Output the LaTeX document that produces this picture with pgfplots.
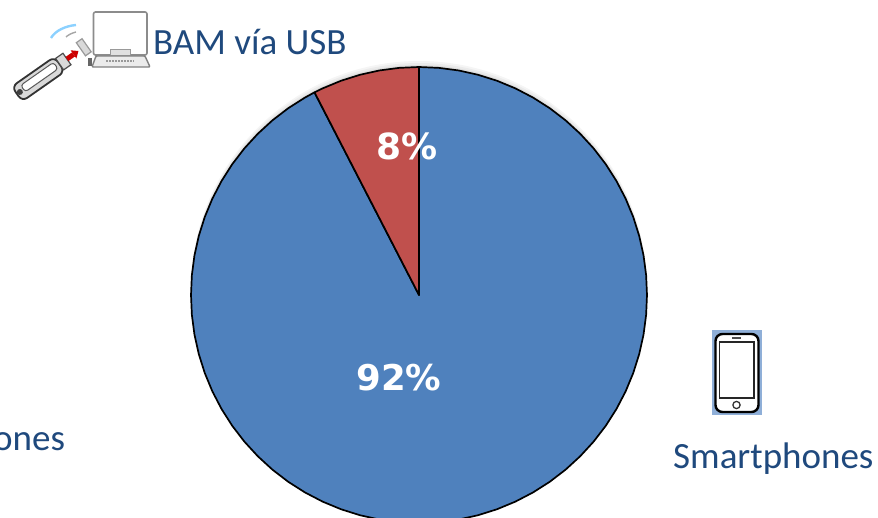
\documentclass[border=0pt]{standalone}
\usepackage{pgfplots}
\pgfplotsset{compat=1.18}
\usepackage{fontspec}
\setmainfont{Carlito}
\newfontfamily\labelfont{DejaVu Sans}
\definecolor{pieblue}{HTML}{4F81BD}
\definecolor{piered}{HTML}{C0504D}
\definecolor{txtblue}{HTML}{1F497D}
\definecolor{phonebg}{HTML}{8FAFD8}
\begin{document}
\begin{tikzpicture}
\clip (0,0) rectangle (878pt,517pt);
\begin{scope}[shift={(0,517pt)}, x=1pt, y=-1pt]
\fill[black, opacity=.04] (419,289) circle (228pt);
\fill[black, opacity=.04] (419,291) circle (228pt);
\fill[black, opacity=.05] (419,293) circle (228pt);
\end{scope}
\begin{axis}[hide axis, scale only axis, width=878pt, height=517pt,
  xmin=-419, xmax=459, ymin=-222, ymax=295, clip=true]
\addplot[draw=black, line width=1.7pt, line join=round, fill=pieblue] coordinates {
(0,0)(0,228)(19.87,227.13)(39.59,224.54)(59.01,220.23)(77.98,214.25)(96.36,206.64)(114,197.45)(130.78,186.77)(146.56,174.66)(161.22,161.22)(174.66,146.56)(186.77,130.78)(197.45,114)(206.64,96.36)(214.25,77.98)(220.23,59.01)(224.54,39.59)(227.13,19.87)
(228,0)(227.13,-19.87)(224.54,-39.59)(220.23,-59.01)(214.25,-77.98)(206.64,-96.36)(197.45,-114)(186.77,-130.78)(174.66,-146.56)(161.22,-161.22)(146.56,-174.66)(130.78,-186.77)(114,-197.45)(96.36,-206.64)(77.98,-214.25)(59.01,-220.23)(39.59,-224.54)(19.87,-227.13)
(0,-228)(-19.87,-227.13)(-39.59,-224.54)(-59.01,-220.23)(-77.98,-214.25)(-96.36,-206.64)(-114,-197.45)(-130.78,-186.77)(-146.56,-174.66)(-161.22,-161.22)(-174.66,-146.56)(-186.77,-130.78)(-197.45,-114)(-206.64,-96.36)(-214.25,-77.98)(-220.23,-59.01)(-224.54,-39.59)(-227.13,-19.87)
(-228,0)(-227.13,19.87)(-224.54,39.59)(-220.23,59.01)(-214.25,77.98)(-206.64,96.36)(-197.45,114)(-186.77,130.78)(-174.66,146.56)(-161.22,161.22)(-146.56,174.66)(-130.78,186.77)(-114,197.45)(-104.5,202.65)(0,0)
} -- cycle;
\addplot[draw=black, line width=1.7pt, line join=round, fill=piered] coordinates {
(0,0)(-104.5,202.65)(-96.36,206.64)(-77.98,214.25)(-59.01,220.23)(-39.59,224.54)(-19.87,227.13)(0,228)(0,0)
} -- cycle;
\node[text=white, font=\labelfont\bfseries\fontsize{36}{36}\selectfont] at (axis cs:-12,149) {8\%};
\node[text=white, font=\labelfont\bfseries\fontsize{35.5}{36}\selectfont] at (axis cs:-20,-83) {92\%};
\node[text=txtblue, anchor=base west, inner sep=0pt, font=\fontsize{37}{37}\selectfont] at (axis cs:-266,240) {BAM vía USB};
\node[text=txtblue, anchor=base west, inner sep=0pt, font=\fontsize{37}{37}\selectfont] at (axis cs:254,-173) {Smartphones};
\node[text=txtblue, anchor=base west, inner sep=0pt, font=\fontsize{37}{37}\selectfont] at (axis cs:-426,-155) {ones};
\end{axis}
\begin{scope}[shift={(0,517pt)}, x=1pt, y=-1pt]
% phone icon
\fill[phonebg] (712,330) rectangle (762,415);
\draw[black, line width=2.4pt, fill=white, rounded corners=7pt] (715.5,334) rectangle (758.5,412);
\draw[black!85, line width=1.2pt, fill=white] (719.5,342) rectangle (754,398);
\draw[black!70, line width=1.1pt] (732,338) -- (741,338);
\draw[black!80, line width=1.3pt] (736.5,405) circle (3.6pt);
% monitor icon
\draw[black!45, line width=1.6pt, fill=white, rounded corners=2pt] (93.5,12) rectangle (147,55);
\draw[black!40, line width=1pt, fill=black!12] (110,50) rectangle (130,56);
\draw[black!50, line width=1.4pt, fill=black!8, rounded corners=1pt] (96,56) -- (145,56) -- (150,67) -- (92,67) -- cycle;
\draw[black!40, line width=2.4pt, dash pattern=on 2pt off 1pt] (106,61) -- (134,61);
\fill[black!60] (88,58) rectangle (92,66);
% wireless arcs
\draw[blue!40!cyan!45, line width=2.4pt] (51,38) .. controls (55,31) and (65,26) .. (76,25);
\draw[black!35, line width=1.4pt] (66,37) .. controls (68,35) and (72,33) .. (76,32);
% USB stick
\begin{scope}[shift={(17,94)}, rotate=35]
\draw[black!80, line width=1.8pt, fill=black!15, rounded corners=6pt] (0,-9) rectangle (52,9);
\draw[black!65, line width=1pt, fill=white, rounded corners=3pt] (8,-5) rectangle (48,3);
\fill[black!75] (3.5,0) circle (3pt);
\draw[black!70, line width=1.2pt, fill=black!15] (52,-7) rectangle (61,7);
\fill[red!80!black] (61,-2.5) rectangle (69,2.5);
\fill[red!80!black] (69,-5) -- (75,0) -- (69,5) -- cycle;
\draw[black!40, line width=1.2pt, fill=black!15] (78,-8) rectangle (85,8);
\end{scope}
\end{scope}
\end{tikzpicture}
\end{document}
